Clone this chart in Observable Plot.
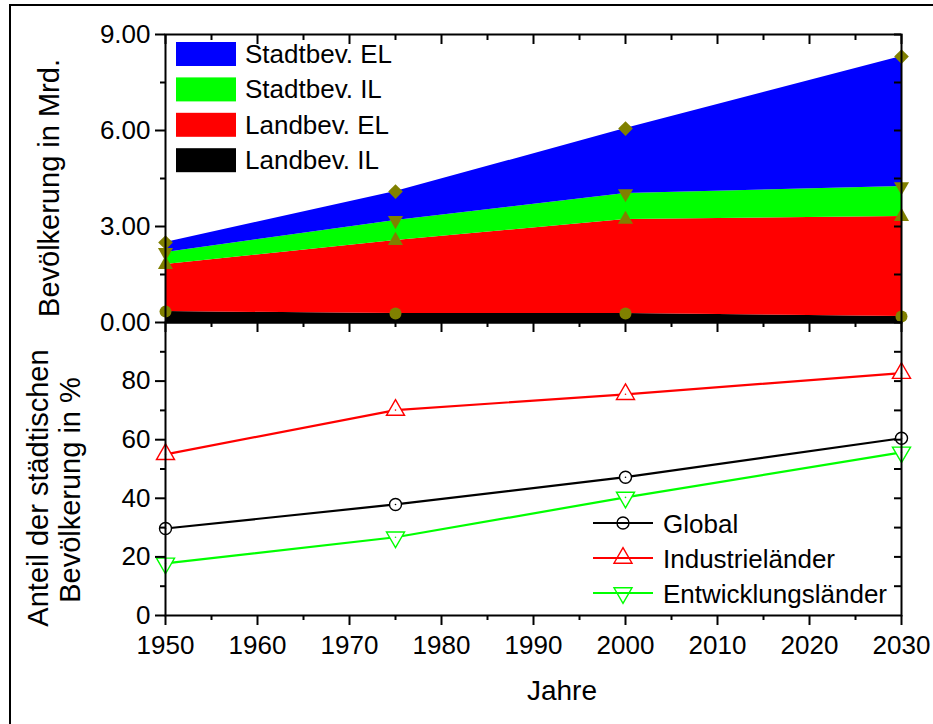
<!DOCTYPE html>
<html><head><meta charset="utf-8">
<script src="https://cdn.jsdelivr.net/npm/d3@7"></script>
<script src="https://cdn.jsdelivr.net/npm/@observablehq/plot@0.6"></script>
<style>
html,body{margin:0;padding:0;background:#fff;}
#wrap{position:relative;width:933px;height:724px;overflow:hidden;font-family:"Liberation Sans",Arial,sans-serif;}
#wrap svg{position:absolute;left:0;top:0;}
</style></head><body><div id="wrap"></div>
<script>
// ---- data ----
const years = [1950, 1975, 2000, 2030];
const landIL  = [0.34, 0.28, 0.28, 0.19];
const landEL  = [1.47, 2.28, 2.94, 3.12];
const stadtIL = [0.38, 0.63, 0.81, 0.94];
const stadtEL = [0.31, 0.90, 2.03, 4.06];
const layerNames  = ["Landbev. IL", "Landbev. EL", "Stadtbev. IL", "Stadtbev. EL"];
const layerColors = ["#000000", "#ff0000", "#00ff00", "#0000ff"];

const pctGlobal    = [29.7, 37.9, 47.2, 60.5];
const pctIndustrie = [55.0, 70.1, 75.5, 82.7];
const pctEntw      = [17.8, 26.7, 40.3, 55.7];
const lineNames  = ["Global", "Industrieländer", "Entwicklungsländer"];
const lineColors = ["#000000", "#ff0000", "#00ff00"];

const xMajor = [1950, 1960, 1970, 1980, 1990, 2000, 2010, 2020, 2030];
const xMinor = [1955, 1965, 1975, 1985, 1995, 2005, 2015, 2025];
const yTopMajor = [0, 3, 6, 9];
const yTopMinor = [1.5, 4.5, 7.5];
const yBotMajor = [0, 20, 40, 60, 80];
const yBotMinor = [10, 30, 50, 70, 90];

// ---- derived tables ----
const layers = [landIL, landEL, stadtIL, stadtEL];
const areaRows = [];
const cumTops = layers.map(() => []);
years.forEach((yr, i) => {
  let base = 0;
  layers.forEach((arr, k) => {
    areaRows.push({year: yr, series: layerNames[k], y1: base, y2: base + arr[i]});
    base += arr[i];
    cumTops[k].push({year: yr, value: base});
  });
});
const pctSeries = [pctGlobal, pctIndustrie, pctEntw];
const lineRows = [];
pctSeries.forEach((arr, k) => years.forEach((yr, i) => lineRows.push({year: yr, value: arr[i], series: lineNames[k]})));
const seriesRows = pctSeries.map((arr, k) => years.map((yr, i) => ({year: yr, value: arr[i]})));

const triDown = {draw(ctx, size) {
  const y = Math.sqrt(size / (3 * Math.sqrt(3)));
  ctx.moveTo(0, 2 * y); ctx.lineTo(Math.sqrt(3) * y, -y); ctx.lineTo(-Math.sqrt(3) * y, -y); ctx.closePath();
}};

const W = 933, ML = 165, MR = 32;
const font = "Liberation Sans, Arial, sans-serif";
const olive = "#808000";
const wrap = document.getElementById("wrap");

// ---- top panel ----
const topMT = 34, topH = 340, topMB = 18;
const topFrameH = topH - topMT - topMB;
const frameW = W - ML - MR;
const p1 = Plot.plot({
  width: W, height: topH, marginTop: topMT, marginBottom: topMB, marginLeft: ML, marginRight: MR,
  style: {fontFamily: font, fontSize: "26px", background: "transparent", overflow: "visible", color: "black"},
  x: {domain: [1950, 2030], label: null},
  y: {domain: [0, 9], label: null},
  color: {domain: layerNames, range: layerColors},
  marks: [
    Plot.areaY(areaRows, {x: "year", y1: "y1", y2: "y2", z: "series", fill: "series", curve: "linear"}),
    Plot.dot(cumTops[0], {x: "year", y: "value", symbol: "circle", r: 6, fill: olive, stroke: "none"}),
    Plot.dot(cumTops[1], {x: "year", y: "value", symbol: "triangle", r: 5.6, fill: olive, stroke: "none"}),
    Plot.dot(cumTops[2], {x: "year", y: "value", symbol: triDown, r: 5.6, fill: olive, stroke: "none"}),
    Plot.dot(cumTops[3], {x: "year", y: "value", symbol: "diamond2", r: 6.6, fill: olive, stroke: "none"}),
    Plot.frame({stroke: "black", strokeWidth: 2}),
    Plot.axisY(yTopMajor, {anchor: "left", tickSize: 10, tickPadding: 5, strokeWidth: 2, fontSize: 26, tickFormat: d3.format(".2f"), label: null}),
    Plot.axisY(yTopMinor, {anchor: "left", tickSize: 5, strokeWidth: 2, tickFormat: () => "", label: null}),
    Plot.axisX(xMajor, {anchor: "bottom", tickSize: 10, strokeWidth: 2, tickFormat: () => "", label: null}),
    Plot.axisX(xMinor, {anchor: "bottom", tickSize: 5, strokeWidth: 2, tickFormat: () => "", label: null}),
    Plot.tickX(xMajor, {x: d => d, insetBottom: topFrameH - 10, stroke: "black", strokeWidth: 2}),
    Plot.tickX(xMinor, {x: d => d, insetBottom: topFrameH - 6, stroke: "black", strokeWidth: 2}),
    Plot.tickY(yTopMajor.concat(yTopMinor), {y: d => d, insetLeft: frameW - 7, stroke: "black", strokeWidth: 2})
  ]
});
wrap.appendChild(p1);

// ---- bottom panel ----
const botMT = 322, botH = 724, botMB = 109;
const p2 = Plot.plot({
  width: W, height: botH, marginTop: botMT, marginBottom: botMB, marginLeft: ML, marginRight: MR,
  style: {fontFamily: font, fontSize: "26px", background: "transparent", overflow: "visible", color: "black"},
  x: {domain: [1950, 2030], label: null},
  y: {domain: [0, 100], label: null},
  color: {domain: lineNames, range: lineColors},
  marks: [
    Plot.line(lineRows, {x: "year", y: "value", z: "series", stroke: "series", strokeWidth: 2.2}),
    Plot.dot(seriesRows[0], {x: "year", y: "value", symbol: "circle", r: 6, fill: "white", stroke: lineColors[0], strokeWidth: 1.4}),
    Plot.dot(seriesRows[1], {x: "year", y: "value", symbol: "triangle", r: 6.7, fill: "white", stroke: lineColors[1], strokeWidth: 1.4}),
    Plot.dot(seriesRows[2], {x: "year", y: "value", symbol: triDown, r: 6.7, fill: "white", stroke: lineColors[2], strokeWidth: 1.4}),
    Plot.dot(seriesRows[0], {x: "year", y: "value", r: 0.8, fill: lineColors[0], stroke: "none"}),
    Plot.dot(seriesRows[1], {x: "year", y: "value", r: 0.8, fill: lineColors[1], stroke: "none"}),
    Plot.dot(seriesRows[2], {x: "year", y: "value", r: 0.8, fill: lineColors[2], stroke: "none"}),
    Plot.frame({stroke: "black", strokeWidth: 2}),
    Plot.axisY(yBotMajor, {anchor: "left", tickSize: 10, tickPadding: 5, strokeWidth: 2, fontSize: 26, label: null}),
    Plot.axisY(yBotMinor, {anchor: "left", tickSize: 5, strokeWidth: 2, tickFormat: () => "", label: null}),
    Plot.axisX(xMajor, {anchor: "bottom", tickSize: 10, tickPadding: 10, strokeWidth: 2, fontSize: 26, tickFormat: d3.format("d"), label: null}),
    Plot.axisX(xMinor, {anchor: "bottom", tickSize: 5, strokeWidth: 2, tickFormat: () => "", label: null}),
    Plot.tickY(yBotMajor.concat(yBotMinor).filter(v => v > 0), {y: d => d, insetLeft: frameW - 7, stroke: "black", strokeWidth: 2})
  ]
});
wrap.appendChild(p2);

// ---- overlay: legends, titles, border ----
const ov = d3.select(wrap).append("svg").attr("width", W).attr("height", 724)
  .style("font-family", font);

ov.append("path").attr("d", "M10,724V5H933").attr("fill", "none").attr("stroke", "black").attr("stroke-width", 2);

// top legend (top layer first)
const legOrder = [3, 2, 1, 0];
legOrder.forEach((k, i) => {
  const y0 = 42 + i * 35.4;
  ov.append("rect").attr("x", 176).attr("y", y0).attr("width", 60).attr("height", 24).attr("fill", layerColors[k]);
  ov.append("text").attr("x", 245).attr("y", y0 + 21).attr("font-size", 26).attr("fill", "black").text(layerNames[k]);
});

// bottom legend
const legSyms = [d3.symbolCircle, d3.symbolTriangle, triDown];
const legR = [6, 6.7, 6.7];
lineNames.forEach((name, k) => {
  const yL = 523 + k * 35;
  ov.append("line").attr("x1", 593).attr("x2", 653).attr("y1", yL).attr("y2", yL)
    .attr("stroke", lineColors[k]).attr("stroke-width", 2.2);
  ov.append("path").attr("transform", `translate(623,${yL})`)
    .attr("d", d3.symbol(legSyms[k], Math.PI * legR[k] * legR[k])())
    .attr("fill", "none").attr("stroke", lineColors[k]).attr("stroke-width", 1.4);
  ov.append("text").attr("x", 663).attr("y", yL + 10).attr("font-size", 26).attr("fill", "black").text(name);
});

// axis titles
ov.append("text").attr("transform", "translate(59,188) rotate(-90)").attr("text-anchor", "middle")
  .attr("font-size", 29).text("Bevölkerung in Mrd.");
ov.append("text").attr("transform", "translate(48,488) rotate(-90)").attr("text-anchor", "middle")
  .attr("font-size", 29).text("Anteil der städtischen");
ov.append("text").attr("transform", "translate(80,490) rotate(-90)").attr("text-anchor", "middle")
  .attr("font-size", 29).text("Bevölkerung in %");
ov.append("text").attr("x", 562).attr("y", 700).attr("text-anchor", "middle")
  .attr("font-size", 28).text("Jahre");
</script>
</body></html>
